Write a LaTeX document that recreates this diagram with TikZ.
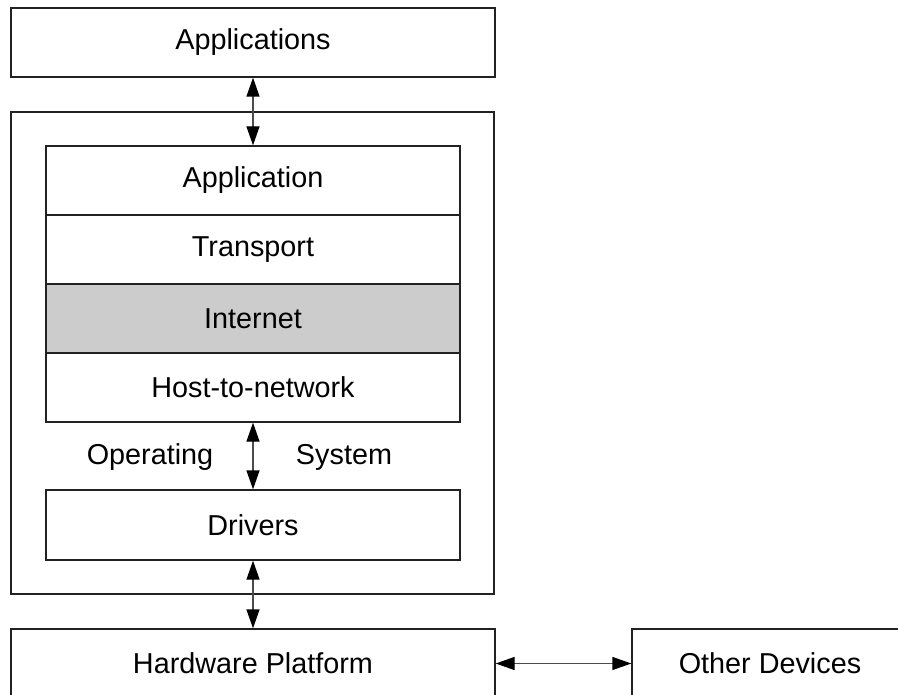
\documentclass[tikz,border=0pt]{standalone}
\usepackage{fontspec}
\setmainfont{Liberation Sans}
\usetikzlibrary{arrows.meta}
\definecolor{layergray}{HTML}{CCCCCC}
\definecolor{edge}{HTML}{222222}
\begin{document}
\begin{tikzpicture}[x=1pt,y=-1pt,
  font=\fontsize{28.8}{34}\selectfont,
  box/.style={draw=edge, line width=1.3pt, fill=white, inner sep=0pt,
    minimum width=#1, minimum height=69pt},
  box/.default=484pt,
  layer/.style={box=414pt},
  tip/.tip={Triangle[length=19pt,width=13pt,color=black]},
  link/.style={line width=1.3pt, draw=black!70, tip-tip}]
\useasboundingbox (0,0) rectangle (898,695);
\clip (0,0) rectangle (898,695);
% operating system frame
\node[draw=edge, line width=1.3pt, inner sep=0pt, minimum width=483pt,
  minimum height=482pt] (os) at (252.5,353) {};
% applications on top
\node[box] (apps) at (253,42.5) {Applications};
% protocol stack
\node[layer] (app) at (253,180.5) {Application};
\node[layer] (trans) at (253,249.5) {Transport};
\node[layer, fill=layergray] (inet) at (253,318.5) {Internet};
\node[layer] (host) at (253,387.5) {Host-to-network};
% drivers
\node[layer, minimum height=70pt] (drv) at (253,525) {Drivers};
% hardware and peers
\node[box] (hw) at (253,663.5) {Hardware Platform};
\node[box=276pt] (other) at (770,663.5) {Other Devices};
% operating system label
\node (oplbl) at (150,457) {Operating};
\node (syslbl) at (344,457) {System};
% connectors
\draw[link] (apps.south) -- (app.north);
\draw[link] (host.south) -- (drv.north);
\draw[link] (drv.south) -- (hw.north);
\draw[link] (hw.east) -- (other.west);
\end{tikzpicture}
\end{document}
